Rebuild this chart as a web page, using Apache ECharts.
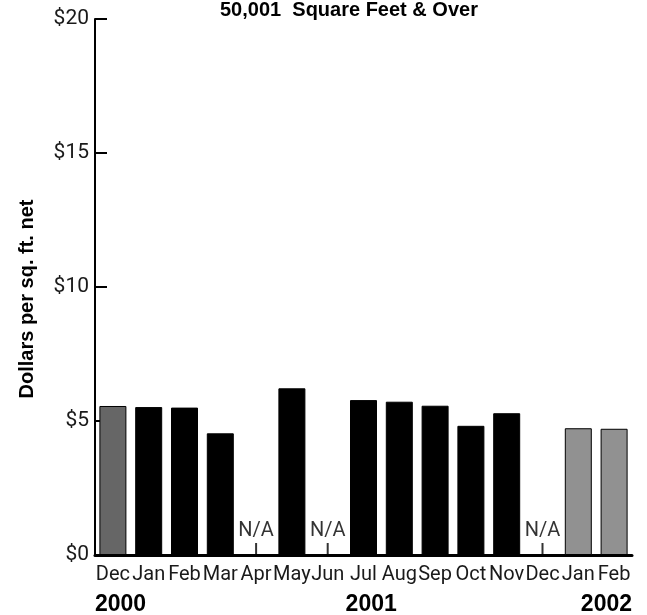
<!DOCTYPE html>
<html>
<head>
<meta charset="utf-8">
<script src="https://cdn.jsdelivr.net/npm/echarts@6/dist/echarts.min.js"></script>
<style>
  html, body { margin: 0; padding: 0; background: #fff; }
  #chart { width: 647px; height: 615px; }
</style>
</head>
<body>
<div id="chart"></div>
<script>
// months shown on the x axis, Dec 2000 .. Feb 2002
const months = ["Dec", "Jan", "Feb", "Mar", "Apr", "May", "Jun", "Jul", "Aug", "Sep", "Oct", "Nov", "Dec", "Jan", "Feb"];
// year each month belongs to (drives bar shade)
const monthYear = ["2000", "2001", "2001", "2001", "2001", "2001", "2001", "2001", "2001", "2001", "2001", "2001", "2001", "2002", "2002"];
// dollars per sq. ft. net, null = N/A
const rents = [5.56, 5.52, 5.50, 4.54, null, 6.22, null, 5.78, 5.72, 5.57, 4.82, 5.29, null, 4.73, 4.71];
const yTicks = [0, 5, 10, 15, 20];
// year captions under the axis: text, month index, side of the band it sits on
const yearCaptions = [
  { text: "2000", index: 0, side: "left" },
  { text: "2001", index: 7, side: "left" },
  { text: "2002", index: 14, side: "right" },
];

const shade = { "2000": "#666666", "2001": "#000000", "2002": "#919191" };
const narrow = "Roboto, 'Liberation Sans', Arial, sans-serif";
const bold = "'Liberation Sans', Arial, sans-serif";

const chart = echarts.init(document.getElementById("chart"), null, { renderer: "canvas" });

let option = {
  animation: false,
  backgroundColor: "#fff",
  title: {
    text: "50,001  Square Feet & Over",
    left: 215,
    top: -5,
    textStyle: {
      fontFamily: bold,
      fontWeight: "bold",
      fontSize: 20,
      color: "#000",
    },
  },
  grid: {
    left: 95,
    right: 15,
    top: 19,
    bottom: 60,
    containLabel: false,
  },
  xAxis: {
    type: "category",
    data: months,
    axisLine: { lineStyle: { color: "#000", width: 3 } },
    axisTick: { show: false },
    axisLabel: {
      interval: 0,
      margin: 10,
      color: "#1a1a1a",
      fontFamily: narrow,
      fontSize: 20,
    },
  },
  yAxis: {
    type: "value",
    min: yTicks[0],
    max: yTicks[yTicks.length - 1],
    interval: 5,
    name: "Dollars per sq. ft. net",
    nameLocation: "middle",
    nameGap: 58,
    nameTextStyle: {
      fontFamily: bold,
      fontWeight: "bold",
      fontSize: 20,
      color: "#000",
      padding: [0, 24, 0, 0],
    },
    splitLine: { show: false },
    axisLine: { show: true, lineStyle: { color: "#000", width: 2 } },
    axisTick: { show: true, inside: true, length: 12, lineStyle: { color: "#000", width: 2 } },
    axisLabel: {
      margin: 6,
      color: "#1a1a1a",
      fontFamily: narrow,
      fontSize: 21,
      formatter: (v) => "$" + v,
    },
  },
  series: [
    {
      type: "bar",
      barWidth: 27,
      data: rents.map((v, i) => ({
        value: v,
        itemStyle: {
          color: shade[monthYear[i]],
          borderColor: "#000",
          borderWidth: 1,
        },
      })),
    },
    {
      type: "scatter",
      symbol: "rect",
      symbolSize: [2, 12],
      symbolOffset: [0, -6],
      itemStyle: { color: "#000" },
      data: rents.map((v) => (v === null ? 0 : "-")),
      label: {
        show: true,
        position: "top",
        distance: 2,
        formatter: "N/A",
        color: "#000",
        fontFamily: narrow,
        fontSize: 20,
      },
    },
  ],
};
chart.setOption(option);

// year captions, placed from the category scale
const halfBand = (chart.convertToPixel({ xAxisIndex: 0 }, 1) - chart.convertToPixel({ xAxisIndex: 0 }, 0)) / 2;
const baseY = chart.convertToPixel({ yAxisIndex: 0 }, 0);
chart.setOption({
  graphic: yearCaptions.map((c) => {
    const cx = chart.convertToPixel({ xAxisIndex: 0 }, c.index);
    return {
      type: "text",
      x: c.side === "left" ? cx - halfBand : cx + halfBand,
      y: baseY + 38,
      style: {
        text: c.text,
        align: c.side,
        verticalAlign: "top",
        fontFamily: bold,
        fontWeight: "bold",
        fontSize: 23,
        fill: "#000",
      },
    };
  }),
});
</script>
</body>
</html>
